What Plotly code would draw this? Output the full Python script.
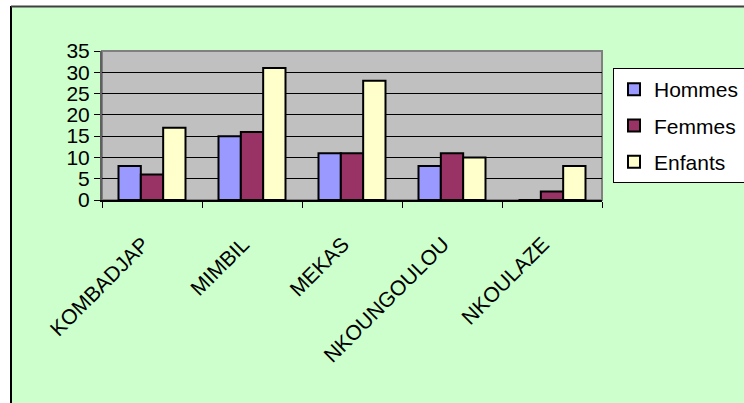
import plotly.graph_objects as go

categories = ["KOMBADJAP", "MIMBIL", "MEKAS", "NKOUNGOULOU", "NKOULAZE"]
hommes = [8, 15, 11, 8, 0]
femmes = [6, 16, 11, 11, 2]
enfants = [17, 31, 28, 10, 8]
series_names = ["Hommes", "Femmes", "Enfants"]
series_colors = ["#9999FF", "#993366", "#FFFFCC"]
y_ticks = [0, 5, 10, 15, 20, 25, 30, 35]

FONT = "Arial, 'Liberation Sans', sans-serif"

fig = go.Figure()
for name, vals, col in zip(series_names, [hommes, femmes, enfants], series_colors):
    fig.add_trace(go.Bar(
        x=categories, y=vals, name=name, legendgroup=name,
        marker=dict(color=col, line=dict(color="black", width=2)),
    ))

# plot-area geometry in pixels
L, R, T, B = 102, 602, 51, 200
W, H = 744, 403
pw, ph = R - L, B - T

def px(x):
    return (x - L) / pw

def py(y):
    return (B - y) / ph

shapes = [
    # white strips outside the green chart frame
    dict(type="rect", xref="paper", yref="paper", x0=px(-5), x1=px(11), y0=py(W), y1=py(-5),
         fillcolor="white", line=dict(width=0), layer="above"),
    dict(type="rect", xref="paper", yref="paper", x0=px(-5), x1=px(W + 5), y0=py(6), y1=py(-5),
         fillcolor="white", line=dict(width=0), layer="above"),
    dict(type="line", xref="paper", yref="paper", x0=px(11), x1=px(11), y0=py(6), y1=py(W),
         line=dict(color="black", width=2)),
    dict(type="line", xref="paper", yref="paper", x0=px(11), x1=px(W + 5), y0=py(6.5), y1=py(6.5),
         line=dict(color="#404040", width=2)),
    # plot area border
    dict(type="rect", xref="paper", yref="paper", x0=0, x1=1, y0=0, y1=1,
         line=dict(color="#808080", width=2), layer="below"),
]

fig.update_layout(
    width=W, height=H,
    margin=dict(l=L, r=W - R, t=T, b=H - B, autoexpand=False),
    paper_bgcolor="#CCFFCC",
    plot_bgcolor="#C0C0C0",
    font=dict(family=FONT, size=21, color="black"),
    barmode="group", bargap=0.33, bargroupgap=0,
    showlegend=True,
    legend=dict(
        x=px(613), y=py(68), xanchor="left", yanchor="top",
        bgcolor="white", bordercolor="black", borderwidth=1,
        font=dict(family=FONT, size=21, color="black"),
        traceorder="grouped", tracegroupgap=6, itemwidth=30,
    ),
    shapes=shapes,
    xaxis=dict(
        type="category", tickangle=-45, ticks="outside", tickson="boundaries",
        ticklen=6, tickcolor="black", showline=True, linecolor="black", linewidth=1.5,
        showgrid=False, ticklabelstandoff=22, ticklabelshift=-9,
        tickfont=dict(family=FONT, size=21, color="black"),
    ),
    yaxis=dict(
        range=[0, 35], tickvals=y_ticks, ticks="outside", ticklen=6, tickcolor="black",
        showline=True, linecolor="#606060", linewidth=2,
        showgrid=True, gridcolor="black", gridwidth=1, zeroline=False,
        tickfont=dict(family=FONT, size=21, color="black"),
    ),
)

fig.write_html("out.html")
